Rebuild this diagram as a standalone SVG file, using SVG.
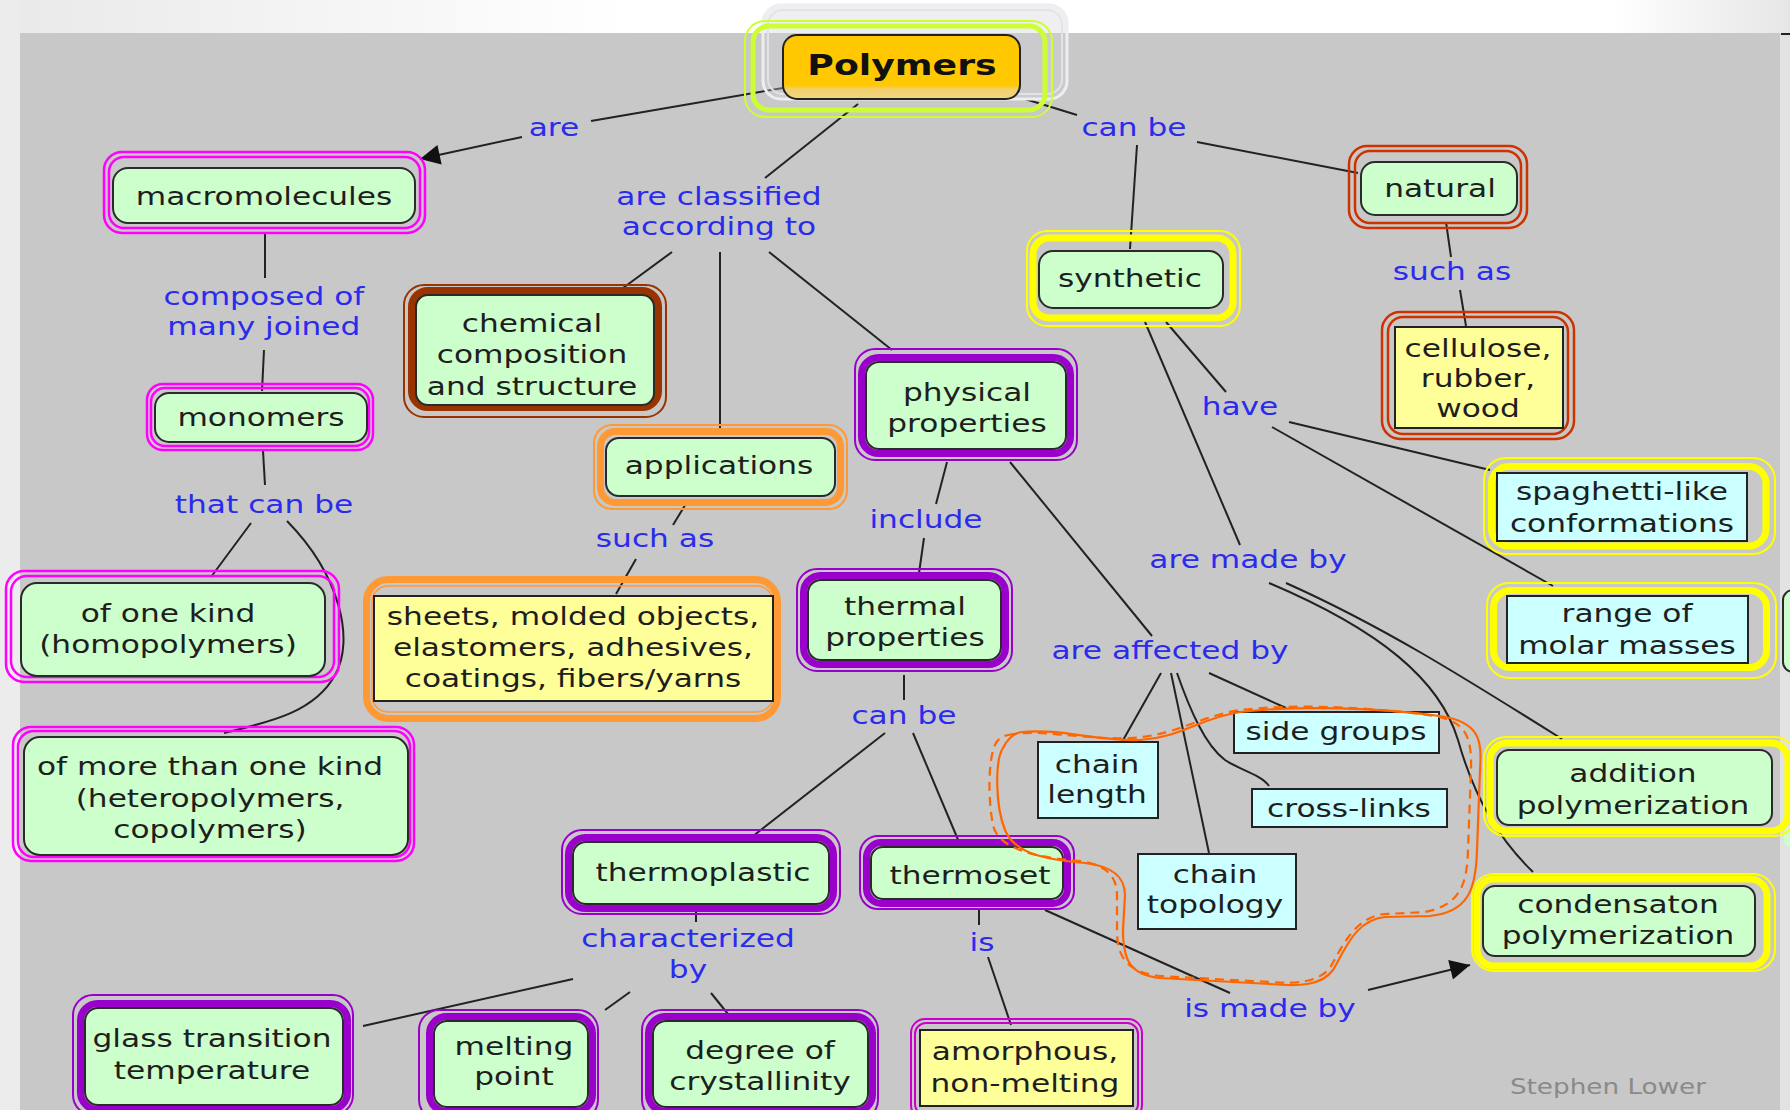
<svg xmlns="http://www.w3.org/2000/svg" width="1790" height="1110" viewBox="0 0 1790 1110">
<defs>
<linearGradient id="bgTop" x1="0" y1="0" x2="1" y2="0">
<stop offset="0" stop-color="#e9e9e9"/><stop offset="0.35" stop-color="#ffffff"/><stop offset="0.9" stop-color="#ffffff"/><stop offset="1" stop-color="#e6e6e6"/>
</linearGradient>
<linearGradient id="polyFill" x1="0" y1="0" x2="0" y2="1">
<stop offset="0" stop-color="#ffc800"/><stop offset="0.78" stop-color="#ffc800"/><stop offset="0.85" stop-color="#f2d070"/><stop offset="1" stop-color="#f0d67e"/>
</linearGradient>
<marker id="arr" viewBox="0 0 10 10" refX="10" refY="5" markerWidth="26" markerHeight="20" markerUnits="userSpaceOnUse" orient="auto">
<path d="M0,0 L10,5 L0,10 z" fill="#111"/>
</marker>
</defs>
<style>
.n, .l, .p, .s { font-family: "DejaVu Sans", Verdana, "Liberation Sans", sans-serif; text-anchor: middle; transform-box: fill-box; transform-origin: center; transform: scaleX(1.25); }
.n { font-size: 25px; fill: #1e1e1e; }
.l { font-size: 25px; fill: #2b2bee; }
.p { font-size: 29px; font-weight: bold; fill: #111; }
.s { font-size: 21px; fill: #8a8a8a; }
.g { fill: #ccffcc; stroke: #2a2a2a; stroke-width: 2; }
.c { fill: #ccffff; stroke: #222; stroke-width: 2; }
.y { fill: #ffff99; stroke: #222; stroke-width: 2; }
.band { fill: none; stroke-width: 7; }
.thin { fill: none; stroke-width: 2; }
.dbl { fill: none; stroke-width: 2.5; }
.pu { stroke: #9900cc; }
.ye { stroke: #ffff00; }
.or { stroke: #ff9933; }
.br { stroke: #993300; }
.rd { stroke: #cc3300; }
.mg { stroke: #ff00ff; }
.mp { stroke: #cc00cc; }
.li { stroke: #ccff33; }
.edge { fill: none; stroke: #222; stroke-width: 2; }
.loop { fill: none; stroke: #ff6600; stroke-width: 2.2; }
</style>

<!-- background -->
<rect width="1790" height="1110" fill="url(#bgTop)"/>
<rect x="0" y="0" width="20" height="1110" fill="#ececec"/>
<rect x="20" y="33" width="1760" height="1077" fill="#c8c8c8"/>
<rect x="1780" y="33" width="10" height="1077" fill="#e2e2e2"/>
<line x1="1781" y1="34" x2="1790" y2="34" stroke="#222" stroke-width="2"/>
<!-- cut-off fragments at right edge -->
<rect x="1783" y="590" width="20" height="82" rx="10" fill="#ccffcc" stroke="#2a2a2a" stroke-width="2"/>
<rect x="1784" y="826" width="20" height="22" rx="8" fill="#ccffcc"/>

<!-- connectors -->
<g id="connectors">
<path class="edge" d="M783,88 L591,121"/>
<path class="edge" d="M522,137 L420,159" marker-end="url(#arr)"/>
<path class="edge" d="M858,104 L765,178"/>
<path class="edge" d="M672,252 L623,288"/>
<path class="edge" d="M720,252 L720,435"/>
<path class="edge" d="M769,252 L892,350"/>
<path class="edge" d="M1025,99 L1077,115"/>
<path class="edge" d="M1197,142 L1358,173"/>
<path class="edge" d="M1137,145 L1130,249"/>
<path class="edge" d="M1446,222 L1451,257"/>
<path class="edge" d="M1460,290 L1466,326"/>
<path class="edge" d="M1166,322 L1226,392"/>
<path class="edge" d="M1145,322 L1240,545"/>
<path class="edge" d="M1289,422 L1490,470"/>
<path class="edge" d="M1272,427 L1553,586"/>
<path class="edge" d="M1286,583 C1380,625 1460,675 1562,739"/>
<path class="edge" d="M1269,583 C1380,630 1440,680 1458,740 C1475,800 1500,840 1533,872"/>
<path class="edge" d="M265,233 L265,278"/>
<path class="edge" d="M264,350 L262,391"/>
<path class="edge" d="M263,451 L265,485"/>
<path class="edge" d="M251,523 L211,577"/>
<path class="edge" d="M287,521 C340,575 355,640 335,675 C315,712 270,722 224,733"/>
<path class="edge" d="M687,502 L673,525"/>
<path class="edge" d="M636,559 L616,594"/>
<path class="edge" d="M947,462 L936,504"/>
<path class="edge" d="M924,538 L919,573"/>
<path class="edge" d="M1010,462 L1152,636"/>
<path class="edge" d="M904,675 L904,700"/>
<path class="edge" d="M885,733 L748,840"/>
<path class="edge" d="M913,733 L959,842"/>
<path class="edge" d="M1161,673 L1122,742"/>
<path class="edge" d="M1171,673 L1209,853"/>
<path class="edge" d="M1177,673 C1190,710 1205,745 1225,760 C1240,770 1262,775 1269,786"/>
<path class="edge" d="M1209,673 L1286,708"/>
<path class="edge" d="M696,910 L696,922"/>
<path class="edge" d="M573,979 L363,1026"/>
<path class="edge" d="M630,992 L605,1010"/>
<path class="edge" d="M711,993 L728,1014"/>
<path class="edge" d="M979,910 L979,925"/>
<path class="edge" d="M988,957 L1011,1025"/>
<path class="edge" d="M1045,910 L1230,993"/>
<path class="edge" d="M1368,990 L1470,965" marker-end="url(#arr)"/>
</g>

<!-- linking phrases -->
<g id="links">
<text class="l" x="554" y="136">are</text>
<text class="l" x="1134" y="136">can be</text>
<text class="l" x="719" y="205">are classified<tspan x="719" y="235">according to</tspan></text>
<text class="l" x="264" y="305">composed of<tspan x="264" y="335">many joined</tspan></text>
<text class="l" x="264" y="513">that can be</text>
<text class="l" x="655" y="547">such as</text>
<text class="l" x="926" y="528">include</text>
<text class="l" x="904" y="724">can be</text>
<text class="l" x="1452" y="280">such as</text>
<text class="l" x="1240" y="415">have</text>
<text class="l" x="1248" y="568">are made by</text>
<text class="l" x="1170" y="659">are affected by</text>
<text class="l" x="688" y="947">characterized<tspan x="688" y="978">by</tspan></text>
<text class="l" x="982" y="951">is</text>
<text class="l" x="1270" y="1017">is made by</text>
</g>

<!-- nodes -->
<g id="node-polymers">
<rect x="763" y="5" width="304" height="94" rx="18" fill="#d2d2d8" fill-opacity="0.35" stroke="#eeeef2" stroke-width="3"/>
<rect x="768" y="10" width="294" height="84" rx="15" fill="none" stroke="#e2e2e8" stroke-width="2"/>
<rect class="thin li" x="745" y="21" width="307" height="96" rx="20"/>
<rect class="band li" x="753" y="26" width="292" height="84" rx="16" style="stroke-width:5"/>
<rect x="783" y="35" width="237" height="64" rx="14" fill="url(#polyFill)" stroke="#222" stroke-width="2"/>
<text class="p" x="902" y="75">Polymers</text>
</g>

<g id="node-macromolecules">
<rect class="dbl mg" x="104" y="152" width="321" height="81" rx="18"/>
<rect class="dbl mg" x="109" y="157" width="311" height="71" rx="15"/>
<rect class="g" x="113" y="168" width="302" height="55" rx="15"/>
<text class="n" x="264" y="205">macromolecules</text>
</g>

<g id="node-monomers">
<rect class="dbl mg" x="147" y="384" width="226" height="66" rx="16"/>
<rect class="dbl mg" x="151" y="388" width="218" height="58" rx="14"/>
<rect class="g" x="155" y="393" width="212" height="49" rx="14"/>
<text class="n" x="261" y="426">monomers</text>
</g>

<g id="node-one-kind">
<rect class="dbl mg" x="6" y="571" width="333" height="111" rx="18"/>
<rect class="dbl mg" x="11" y="576" width="323" height="101" rx="16"/>
<rect class="g" x="21" y="583" width="304" height="93" rx="16"/>
<text class="n" x="168" y="622">of one kind<tspan x="168" y="653">(homopolymers)</tspan></text>
</g>

<g id="node-more-kinds">
<rect class="dbl mg" x="13" y="727" width="401" height="134" rx="18"/>
<rect class="dbl mg" x="18" y="731" width="392" height="126" rx="16"/>
<rect class="g" x="24" y="737" width="384" height="118" rx="16"/>
<text class="n" x="210" y="775">of more than one kind<tspan x="210" y="807">(heteropolymers,</tspan><tspan x="210" y="838">copolymers)</tspan></text>
</g>

<g id="node-chemical">
<rect class="thin br" x="404" y="285" width="262" height="132" rx="20"/>
<rect class="band br" x="412" y="291" width="246" height="116" rx="16" style="stroke-width:8"/>
<rect class="g" x="416" y="295" width="238" height="110" rx="12"/>
<text class="n" x="532" y="332">chemical<tspan x="532" y="363">composition</tspan><tspan x="532" y="395">and structure</tspan></text>
</g>

<g id="node-applications">
<rect class="thin or" x="594" y="425" width="253" height="84" rx="18"/>
<rect class="band or" x="600.5" y="431.5" width="240" height="71" rx="15"/>
<rect class="g" x="606" y="438" width="229" height="58" rx="13"/>
<text class="n" x="719" y="474">applications</text>
</g>

<g id="node-sheets">
<rect class="band or" x="366.5" y="579.5" width="411" height="139" rx="22"/>
<rect x="372" y="586" width="401" height="126" rx="16" fill="none" stroke="#ff9933" stroke-width="1.5"/>
<rect class="y" x="374" y="596" width="399" height="105"/>
<text class="n" x="573" y="625">sheets, molded objects,<tspan x="573" y="656">elastomers, adhesives,</tspan><tspan x="573" y="687">coatings, fibers/yarns</tspan></text>
</g>

<g id="node-physical">
<rect class="thin pu" x="855" y="349" width="222" height="111" rx="20"/>
<rect class="band pu" x="861.5" y="357.5" width="209" height="96" rx="17"/>
<rect class="g" x="866" y="362" width="200" height="87" rx="13"/>
<text class="n" x="967" y="401">physical<tspan x="967" y="432">properties</tspan></text>
</g>

<g id="node-thermal">
<rect class="thin pu" x="797" y="569" width="215" height="102" rx="20"/>
<rect class="band pu" x="803.5" y="575.5" width="202" height="89" rx="17"/>
<rect class="g" x="808" y="580" width="193" height="80" rx="13"/>
<text class="n" x="905" y="615">thermal<tspan x="905" y="646">properties</tspan></text>
</g>

<g id="node-thermoplastic">
<rect class="thin pu" x="562" y="830" width="278" height="84" rx="20"/>
<rect class="band pu" x="568.5" y="837.5" width="265" height="71" rx="17"/>
<rect class="g" x="573" y="842" width="256" height="62" rx="13"/>
<text class="n" x="703" y="881">thermoplastic</text>
</g>

<g id="node-thermoset">
<rect class="thin pu" x="860" y="836" width="214" height="73" rx="18"/>
<rect class="band pu" x="866.5" y="842.5" width="201" height="61" rx="15"/>
<rect class="g" x="871" y="847" width="192" height="52" rx="12"/>
<text class="n" x="970" y="884">thermoset</text>
</g>

<g id="node-glass">
<rect class="thin pu" x="73" y="995" width="280" height="120" rx="20"/>
<rect class="band pu" x="80.5" y="1003.5" width="267" height="106" rx="17"/>
<rect class="g" x="85" y="1008" width="258" height="97" rx="13"/>
<text class="n" x="212" y="1047">glass transition<tspan x="212" y="1079">temperature</tspan></text>
</g>

<g id="node-melting">
<rect class="thin pu" x="419" y="1010" width="179" height="110" rx="20"/>
<rect class="band pu" x="429.5" y="1016.5" width="163" height="95" rx="17"/>
<rect class="g" x="434" y="1021" width="154" height="86" rx="13"/>
<text class="n" x="514" y="1055">melting<tspan x="514" y="1085">point</tspan></text>
</g>

<g id="node-degree">
<rect class="thin pu" x="642" y="1010" width="236" height="110" rx="20"/>
<rect class="band pu" x="648.5" y="1016.5" width="224" height="95" rx="17"/>
<rect class="g" x="653" y="1021" width="215" height="86" rx="13"/>
<text class="n" x="760" y="1059">degree of<tspan x="760" y="1090">crystallinity</tspan></text>
</g>

<g id="node-amorphous">
<rect class="thin mp" x="911" y="1019" width="231" height="100" rx="14"/>
<rect class="thin mp" x="915" y="1023" width="223" height="92" rx="11"/>
<rect class="y" x="920" y="1030" width="213" height="76"/>
<text class="n" x="1025" y="1060">amorphous,<tspan x="1025" y="1092">non-melting</tspan></text>
</g>

<g id="node-synthetic">
<rect class="thin ye" x="1027" y="231" width="213" height="95" rx="20"/>
<rect class="band ye" x="1033" y="238" width="200" height="80" rx="16"/>
<rect class="g" x="1039" y="251" width="184" height="57" rx="14"/>
<text class="n" x="1130" y="287">synthetic</text>
</g>

<g id="node-natural">
<rect class="dbl rd" x="1349" y="146" width="178" height="82" rx="18"/>
<rect class="dbl rd" x="1355" y="151" width="166" height="72" rx="15"/>
<rect class="g" x="1361" y="162" width="156" height="53" rx="14"/>
<text class="n" x="1440" y="197">natural</text>
</g>

<g id="node-cellulose">
<rect class="dbl rd" x="1382" y="312" width="192" height="127" rx="18"/>
<rect class="dbl rd" x="1388" y="317" width="180" height="117" rx="15"/>
<rect class="y" x="1395" y="327" width="168" height="101"/>
<text class="n" x="1478" y="357">cellulose,<tspan x="1478" y="387">rubber,</tspan><tspan x="1478" y="417">wood</tspan></text>
</g>

<g id="node-spaghetti">
<rect class="thin ye" x="1484" y="458" width="291" height="96" rx="22"/>
<rect class="band ye" x="1491.5" y="466.5" width="274.5" height="79.5" rx="17"/>
<rect class="c" x="1497" y="473" width="250" height="68"/>
<text class="n" x="1622" y="500">spaghetti-like<tspan x="1622" y="532">conformations</tspan></text>
</g>

<g id="node-molar">
<rect class="thin ye" x="1487" y="583" width="289" height="95" rx="22"/>
<rect class="band ye" x="1493.5" y="590.5" width="273" height="77" rx="17"/>
<rect class="c" x="1507" y="596" width="241" height="67"/>
<text class="n" x="1627" y="622">range of<tspan x="1627" y="654">molar masses</tspan></text>
</g>

<g id="node-addition">
<rect class="thin ye" x="1484" y="737" width="312" height="99" rx="22"/>
<rect class="band ye" x="1490" y="743" width="298" height="88" rx="17"/>
<rect class="g" x="1497" y="750" width="275" height="75" rx="12"/>
<text class="n" x="1633" y="782">addition<tspan x="1633" y="814">polymerization</tspan></text>
</g>

<g id="node-condensation">
<rect class="thin ye" x="1472" y="874" width="303" height="97" rx="22"/>
<rect class="band ye" x="1477" y="879" width="290" height="87" rx="17"/>
<rect class="g" x="1483" y="886" width="272" height="70" rx="12"/>
<text class="n" x="1618" y="913">condensaton<tspan x="1618" y="944">polymerization</tspan></text>
</g>

<g id="node-chain-length">
<rect class="c" x="1038" y="742" width="120" height="76"/>
<text class="n" x="1097" y="773">chain<tspan x="1097" y="803">length</tspan></text>
</g>

<g id="node-side-groups">
<rect class="c" x="1234" y="712" width="205" height="41"/>
<text class="n" x="1336" y="740">side groups</text>
</g>

<g id="node-cross-links">
<rect class="c" x="1252" y="789" width="195" height="38"/>
<text class="n" x="1349" y="817">cross-links</text>
</g>

<g id="node-chain-topology">
<rect class="c" x="1138" y="854" width="158" height="75"/>
<text class="n" x="1215" y="883">chain<tspan x="1215" y="913">topology</tspan></text>
</g>

<!-- freehand highlight loop -->
<g id="highlight-loop">
<path class="loop" d="M1022,732 C1060,728 1100,742 1140,740 C1180,738 1200,718 1240,712 C1300,705 1380,708 1440,716 C1480,722 1482,740 1480,770 L1477,850 C1476,890 1468,912 1430,916 L1385,917 C1355,920 1345,950 1333,970 C1322,985 1300,987 1270,984 L1160,978 C1130,975 1123,960 1123,930 L1125,895 C1125,875 1110,866 1085,863 C1050,860 1015,855 1005,830 C995,805 995,760 1003,748 C1008,738 1014,733 1022,732 Z"/>
<path class="loop" stroke-dasharray="9 6" d="M1008,735 C1040,728 1080,740 1130,738 C1175,736 1200,716 1240,710 C1300,703 1380,708 1435,716 C1465,722 1472,735 1471,770 L1468,850 C1467,885 1460,905 1425,912 L1385,914 C1355,917 1343,945 1330,968 C1318,982 1298,984 1270,982 L1160,976 C1125,972 1117,955 1117,930 L1117,895 C1117,872 1100,864 1080,861 C1040,858 998,850 993,825 C988,800 988,760 995,745 C998,738 1003,736 1008,735 Z"/>
</g>

<text class="s" x="1608" y="1094">Stephen Lower</text>
</svg>
